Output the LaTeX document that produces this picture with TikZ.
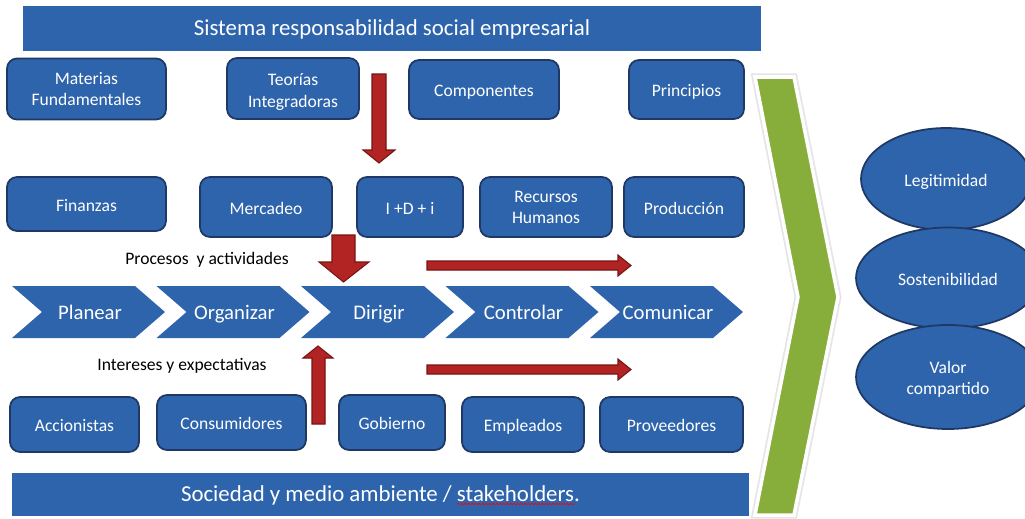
\documentclass[tikz,border=0pt]{standalone}
\usepackage{fontspec}
\setmainfont{Carlito}
\usepackage{xcolor}
\usepackage{tikz}
\usetikzlibrary{shapes.geometric,decorations.pathmorphing}
\definecolor{rseblue}{RGB}{46,100,172}
\definecolor{rseline}{RGB}{31,56,100}
\definecolor{rsered}{RGB}{178,36,36}
\definecolor{rsedarkred}{RGB}{120,20,20}
\definecolor{rsegreen}{RGB}{135,173,58}
\tikzset{box/.style={draw=rseline, line width=1pt, fill=rseblue, rounded corners=0.2cm,
         text=white, align=center, inner sep=0pt,
         font=\fontsize{10}{12}\selectfont},
         oneline/.style={text height=2.1ex, text depth=0.4ex},
         bar/.style={fill=rseblue, text=white, inner sep=0pt, oneline,
         font=\fontsize{13}{15}\selectfont},
         phase/.style={text=white, inner sep=0pt, oneline, font=\fontsize{11.8}{14}\selectfont},
         goal/.style={ellipse, draw=rseline, line width=1pt, fill=rseblue, text=white,
         align=center, inner sep=0pt, font=\fontsize{10}{12}\selectfont},
         blockarrow/.style={fill=rsered, draw=rsedarkred, line width=0.6pt},
         note/.style={inner sep=0pt, oneline, font=\fontsize{10}{12}\selectfont}}

\begin{document}
\begin{tikzpicture}[x=0.02cm, y=-0.02cm]
\useasboundingbox (0,0) rectangle (1025,518);
% green chevron
\draw[gray!20, line width=4pt] (755,77) -- (794,77) -- (838,297) -- (794,515) -- (755,515) -- (798,297) -- cycle;
\draw[white, line width=2pt, fill=rsegreen] (755,77) -- (794,77) -- (838,297) -- (794,515) -- (755,515) -- (798,297) -- cycle;
% bars
\node[bar, minimum width=14.76cm, minimum height=0.9cm] (sys) at (392,28.5) {Sistema responsabilidad social empresarial};
\node[bar, minimum width=14.74cm, minimum height=0.86cm] (soc) at (380.5,494.5) {Sociedad y medio ambiente / stakeholders.};
\draw[red, line width=0.4pt, decorate, decoration={snake, amplitude=0.4pt, segment length=2pt}] (457,504) -- (575,504);
% first row
\node[box, minimum width=3.18cm, minimum height=1.22cm] (mat) at (86.5,89) {Materias\\Fundamentales};
\node[box, minimum width=2.64cm, minimum height=1.22cm] (teo) at (293,88.5) {\raisebox{0pt}[10.8pt]{Teorías}\\Integradoras};
\node[box, oneline, minimum width=3.0cm, minimum height=1.18cm] (com) at (484,89.5) {Componentes};
\node[box, oneline, minimum width=2.3cm, minimum height=1.18cm] (pri) at (686.5,89.5) {Principios};
% second row
\node[box, oneline, minimum width=3.18cm, minimum height=1.08cm] (fin) at (86.5,204) {Finanzas};
\node[box, oneline, minimum width=2.64cm, minimum height=1.2cm] (mer) at (266,207) {Mercadeo};
\node[box, oneline, minimum width=2.12cm, minimum height=1.2cm] (idi) at (410,207) {I +D + i};
\node[box, minimum width=2.64cm, minimum height=1.2cm] (rrh) at (546,207) {Recursos\\Humanos};
\node[box, oneline, minimum width=2.4cm, minimum height=1.2cm] (prd) at (684,207) {Producción};
% chevrons
\foreach \i/\name/\txt in {0/pla/Planear,1/org/Organizar,2/dir/Dirigir,3/ctl/Controlar,4/cmn/Comunicar}{
  \pgfmathsetmacro\L{12+144.5*\i}
  \fill[rseblue] (\L,286) -- ++(123,0) -- ++(30,26) -- ++(-30,26) -- ++(-123,0) -- ++(30,-26) -- cycle;
  \node[phase] (\name) at (\L+78,312) {\txt};
}
\node[note] (proc) at (207,257) {Procesos\ \ y actividades};
\node[note] (inte) at (182,363) {Intereses y expectativas};
% third row
\node[box, oneline, minimum width=2.58cm, minimum height=1.1cm] (acc) at (74.5,424.5) {Accionistas};
\node[box, oneline, minimum width=2.98cm, minimum height=1.1cm] (con) at (231.5,422.5) {Consumidores};
\node[box, oneline, minimum width=2.12cm, minimum height=1.1cm] (gob) at (392,422.5) {Gobierno};
\node[box, oneline, minimum width=2.44cm, minimum height=1.1cm] (emp) at (523,424.5) {Empleados};
\node[box, oneline, minimum width=2.86cm, minimum height=1.1cm] (prv) at (671.5,424.5) {Proveedores};
% red arrows
\draw[blockarrow] (372,74) -- (386,74) -- (386,150) -- (395,150) -- (379,163) -- (363,150) -- (372,150) -- cycle;
\draw[blockarrow] (332,235) -- (355,235) -- (355,262) -- (369,262) -- (343.5,282) -- (319,262) -- (332,262) -- cycle;
\draw[blockarrow] (312,424) -- (325,424) -- (325,358) -- (333,358) -- (318,346) -- (303,358) -- (312,358) -- cycle;
\draw[blockarrow] (427,261) -- (618,261) -- (618,255) -- (631,265.5) -- (618,276) -- (618,270) -- (427,270) -- cycle;
\draw[blockarrow] (427,365) -- (618,365) -- (618,359) -- (631,369.5) -- (618,380) -- (618,374) -- (427,374) -- cycle;
% results
\node[goal, oneline, minimum width=3.4cm, minimum height=2.04cm] (leg) at (946,179) {Legitimidad};
\node[goal, oneline, minimum width=3.68cm, minimum height=2.02cm] (sos) at (948,278) {Sostenibilidad};
\node[goal, minimum width=3.68cm, minimum height=2.08cm] (val) at (948,377) {\raisebox{0pt}[10pt]{Valor}\\compartido};
\end{tikzpicture}
\end{document}
